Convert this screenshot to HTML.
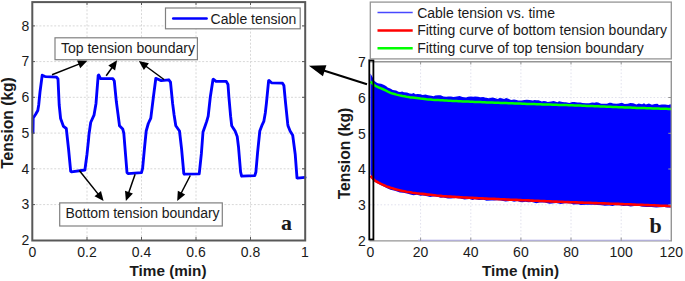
<!DOCTYPE html>
<html><head><meta charset="utf-8"><style>
html,body{margin:0;padding:0;background:#fff;width:685px;height:281px;overflow:hidden}
text{font-family:"Liberation Sans",sans-serif;fill:#1a1a1a}
</style></head><body><svg width="685" height="281" viewBox="0 0 685 281" style="display:block;font-family:'Liberation Sans',sans-serif;fill:#1a1a1a"><line x1="87.0" y1="2" x2="87.0" y2="240" stroke="#d8d8d8" stroke-width="1" stroke-dasharray="2,1.7"/><line x1="141.5" y1="2" x2="141.5" y2="240" stroke="#d8d8d8" stroke-width="1" stroke-dasharray="2,1.7"/><line x1="196.0" y1="2" x2="196.0" y2="240" stroke="#d8d8d8" stroke-width="1" stroke-dasharray="2,1.7"/><line x1="250.5" y1="2" x2="250.5" y2="240" stroke="#d8d8d8" stroke-width="1" stroke-dasharray="2,1.7"/><line x1="32" y1="204.6" x2="305" y2="204.6" stroke="#d8d8d8" stroke-width="1" stroke-dasharray="2,1.7"/><line x1="32" y1="168.8" x2="305" y2="168.8" stroke="#d8d8d8" stroke-width="1" stroke-dasharray="2,1.7"/><line x1="32" y1="133.1" x2="305" y2="133.1" stroke="#d8d8d8" stroke-width="1" stroke-dasharray="2,1.7"/><line x1="32" y1="97.3" x2="305" y2="97.3" stroke="#d8d8d8" stroke-width="1" stroke-dasharray="2,1.7"/><line x1="32" y1="61.6" x2="305" y2="61.6" stroke="#d8d8d8" stroke-width="1" stroke-dasharray="2,1.7"/><line x1="32" y1="25.9" x2="305" y2="25.9" stroke="#d8d8d8" stroke-width="1" stroke-dasharray="2,1.7"/><polyline points="33.0,132.5 33.2,118.0 35.5,114.5 37.8,110.5 38.7,105.0 40.0,92.0 42.2,75.2 44.5,76.3 46.0,76.6 56.5,77.2 58.0,79.0 59.2,105.0 60.6,118.5 63.5,126.4 66.3,128.5 68.1,145.0 68.5,148.5 70.7,171.3 71.5,171.8 84.9,170.0 87.0,154.2 88.5,140.0 89.0,134.2 90.7,122.5 94.0,115.2 96.0,103.4 98.2,75.4 98.8,75.0 100.5,78.6 112.8,78.6 114.3,81.0 116.3,101.3 118.0,114.1 119.5,125.7 122.7,128.9 123.8,133.2 127.0,172.5 128.0,173.6 141.5,172.6 142.6,168.4 144.6,147.0 146.2,131.0 148.3,123.5 150.8,118.2 153.4,97.0 155.8,78.5 156.3,78.5 161.2,80.6 168.8,79.8 170.5,82.1 172.6,103.4 174.1,115.0 175.8,125.7 179.5,131.0 181.6,149.2 183.8,173.5 184.3,174.2 199.2,173.8 199.6,170.5 201.4,153.4 203.0,132.0 205.2,125.7 206.7,121.4 208.2,116.2 210.3,97.0 213.0,79.5 213.5,79.2 216.0,81.4 226.3,81.4 228.0,84.5 228.9,97.0 230.6,116.2 231.7,125.7 235.1,131.0 237.2,136.4 238.5,147.0 240.6,172.0 241.6,176.2 254.8,175.7 255.9,172.0 257.6,152.4 259.8,131.0 261.8,125.7 263.8,121.4 265.3,113.0 266.4,103.4 268.6,80.8 269.1,80.5 271.5,82.8 282.5,83.2 283.9,85.5 285.6,103.4 287.7,123.7 288.0,125.7 290.1,131.0 292.7,135.3 295.2,154.2 297.0,177.8 297.5,178.1 305.0,177.4" fill="none" stroke="#0000ff" stroke-width="2.85" stroke-linejoin="round" stroke-linecap="round"/><rect x="32.3" y="2.1" width="272.9" height="238.4" fill="none" stroke="#585858" stroke-width="2"/><line x1="87.0" y1="240" x2="87.0" y2="237" stroke="#585858" stroke-width="1"/><line x1="87.0" y1="2" x2="87.0" y2="5" stroke="#585858" stroke-width="1"/><line x1="141.5" y1="240" x2="141.5" y2="237" stroke="#585858" stroke-width="1"/><line x1="141.5" y1="2" x2="141.5" y2="5" stroke="#585858" stroke-width="1"/><line x1="196.0" y1="240" x2="196.0" y2="237" stroke="#585858" stroke-width="1"/><line x1="196.0" y1="2" x2="196.0" y2="5" stroke="#585858" stroke-width="1"/><line x1="250.5" y1="240" x2="250.5" y2="237" stroke="#585858" stroke-width="1"/><line x1="250.5" y1="2" x2="250.5" y2="5" stroke="#585858" stroke-width="1"/><line x1="32" y1="204.6" x2="35" y2="204.6" stroke="#585858" stroke-width="1"/><line x1="302" y1="204.6" x2="305" y2="204.6" stroke="#585858" stroke-width="1"/><line x1="32" y1="168.8" x2="35" y2="168.8" stroke="#585858" stroke-width="1"/><line x1="302" y1="168.8" x2="305" y2="168.8" stroke="#585858" stroke-width="1"/><line x1="32" y1="133.1" x2="35" y2="133.1" stroke="#585858" stroke-width="1"/><line x1="302" y1="133.1" x2="305" y2="133.1" stroke="#585858" stroke-width="1"/><line x1="32" y1="97.3" x2="35" y2="97.3" stroke="#585858" stroke-width="1"/><line x1="302" y1="97.3" x2="305" y2="97.3" stroke="#585858" stroke-width="1"/><line x1="32" y1="61.6" x2="35" y2="61.6" stroke="#585858" stroke-width="1"/><line x1="302" y1="61.6" x2="305" y2="61.6" stroke="#585858" stroke-width="1"/><line x1="32" y1="25.9" x2="35" y2="25.9" stroke="#585858" stroke-width="1"/><line x1="302" y1="25.9" x2="305" y2="25.9" stroke="#585858" stroke-width="1"/><text x="29.2" y="245.1" text-anchor="end" font-size="14">2</text><text x="29.2" y="209.4" text-anchor="end" font-size="14">3</text><text x="29.2" y="173.6" text-anchor="end" font-size="14">4</text><text x="29.2" y="137.9" text-anchor="end" font-size="14">5</text><text x="29.2" y="102.1" text-anchor="end" font-size="14">6</text><text x="29.2" y="66.4" text-anchor="end" font-size="14">7</text><text x="29.2" y="30.7" text-anchor="end" font-size="14">8</text><text x="32.5" y="257.2" text-anchor="middle" font-size="14">0</text><text x="87.0" y="257.2" text-anchor="middle" font-size="14">0.2</text><text x="141.5" y="257.2" text-anchor="middle" font-size="14">0.4</text><text x="196.0" y="257.2" text-anchor="middle" font-size="14">0.6</text><text x="250.5" y="257.2" text-anchor="middle" font-size="14">0.8</text><text x="305.0" y="257.2" text-anchor="middle" font-size="14">1</text><text x="168" y="276.3" text-anchor="middle" font-size="15.3" font-weight="bold">Time (min)</text><text transform="translate(13.2,123) rotate(-90)" text-anchor="middle" font-size="15.6" font-weight="bold">Tension (kg)</text><rect x="165.5" y="8" width="134.7" height="20.8" fill="#fff" stroke="#808080" stroke-width="1.2"/><line x1="173.2" y1="18.4" x2="206.6" y2="18.4" stroke="#0000ff" stroke-width="2.5" stroke-linecap="round"/><text x="210.6" y="23.6" font-size="14">Cable tension</text><rect x="55" y="37.8" width="142.4" height="21.9" fill="#fff" stroke="#808080" stroke-width="1.2"/><text x="61" y="52.7" font-size="14">Top tension boundary</text><rect x="59.7" y="202.9" width="162.6" height="23.1" fill="#fff" stroke="#808080" stroke-width="1.2"/><text x="65.6" y="218.1" font-size="14" textLength="154" lengthAdjust="spacing">Bottom tension boundary</text><line x1="52.0" y1="74.8" x2="79.6" y2="63.9" stroke="#000" stroke-width="1.5"/><polygon points="87.4,60.8 80.2,68.2 77.1,60.4" fill="#000"/><line x1="106.2" y1="75.8" x2="112.3" y2="67.2" stroke="#000" stroke-width="1.5"/><polygon points="117.1,60.3 115.1,70.4 108.3,65.6" fill="#000"/><line x1="164.0" y1="79.5" x2="145.6" y2="66.0" stroke="#000" stroke-width="1.5"/><polygon points="138.8,61.0 148.9,63.2 143.9,69.9" fill="#000"/><line x1="79.3" y1="170.5" x2="98.4" y2="194.4" stroke="#000" stroke-width="1.5"/><polygon points="103.6,201.0 94.5,196.3 101.0,191.0" fill="#000"/><line x1="135.1" y1="174.2" x2="128.6" y2="193.1" stroke="#000" stroke-width="1.5"/><polygon points="125.9,201.0 125.0,190.7 132.9,193.5" fill="#000"/><line x1="190.3" y1="175.5" x2="181.0" y2="193.5" stroke="#000" stroke-width="1.5"/><polygon points="177.2,201.0 177.8,190.7 185.2,194.6" fill="#000"/><text x="281" y="230.2" font-size="22" font-weight="bold" style="font-family:'Liberation Serif',serif">a</text><line x1="420.6" y1="62" x2="420.6" y2="240" stroke="#e2e2ee" stroke-width="1" stroke-dasharray="1.6,1.9"/><line x1="470.8" y1="62" x2="470.8" y2="240" stroke="#e2e2ee" stroke-width="1" stroke-dasharray="1.6,1.9"/><line x1="520.9" y1="62" x2="520.9" y2="240" stroke="#e2e2ee" stroke-width="1" stroke-dasharray="1.6,1.9"/><line x1="571.0" y1="62" x2="571.0" y2="240" stroke="#e2e2ee" stroke-width="1" stroke-dasharray="1.6,1.9"/><line x1="621.2" y1="62" x2="621.2" y2="240" stroke="#e2e2ee" stroke-width="1" stroke-dasharray="1.6,1.9"/><line x1="370" y1="204.8" x2="671" y2="204.8" stroke="#e2e2ee" stroke-width="1" stroke-dasharray="1.6,1.9"/><line x1="370" y1="169.0" x2="671" y2="169.0" stroke="#e2e2ee" stroke-width="1" stroke-dasharray="1.6,1.9"/><line x1="370" y1="133.3" x2="671" y2="133.3" stroke="#e2e2ee" stroke-width="1" stroke-dasharray="1.6,1.9"/><line x1="370" y1="97.5" x2="671" y2="97.5" stroke="#e2e2ee" stroke-width="1" stroke-dasharray="1.6,1.9"/><polygon points="370.5,73.4 372.6,77.3 374.4,80.9 377.3,82.9 378.9,83.5 381.1,83.8 383.6,84.8 386.0,86.0 387.7,87.6 390.8,88.8 392.8,90.0 396.2,90.6 398.5,91.7 400.1,91.9 402.2,91.5 403.9,92.2 407.0,92.6 409.7,93.6 411.9,93.7 413.6,93.1 415.5,94.2 417.8,93.9 420.5,94.3 422.6,95.1 425.5,94.5 428.1,95.2 431.4,95.8 433.5,96.3 435.2,95.5 438.2,95.3 440.7,95.2 443.5,96.5 446.2,96.8 448.3,96.6 451.0,96.6 453.4,97.1 456.8,96.6 459.6,96.1 462.5,97.0 466.0,97.4 468.1,96.8 470.9,96.4 473.3,96.7 475.1,96.6 478.1,96.8 480.1,97.2 483.3,96.9 485.7,97.7 489.0,98.2 492.2,97.6 494.6,97.9 497.8,99.0 499.6,97.9 501.6,98.2 504.1,98.9 506.1,98.1 508.4,98.8 511.1,99.9 514.0,99.5 516.7,99.9 518.3,100.4 521.4,100.6 524.5,100.1 526.8,99.8 529.5,100.0 531.2,100.3 533.0,100.5 534.6,100.1 536.4,100.3 538.6,100.3 541.9,101.4 543.7,100.9 545.9,101.2 547.6,102.0 551.1,101.5 553.6,101.1 555.3,101.5 557.3,102.3 559.1,101.2 562.5,102.1 564.3,102.2 565.9,102.2 569.3,102.9 572.2,102.0 574.4,102.0 577.5,102.6 580.5,102.4 582.5,103.1 586.0,103.3 589.1,103.3 592.1,102.5 594.6,102.7 596.1,102.2 598.2,102.6 601.1,103.7 603.5,103.7 607.0,103.8 609.2,102.7 611.1,102.7 613.1,103.4 616.4,103.8 618.8,103.5 621.9,102.7 624.7,104.0 627.8,103.8 630.3,103.0 633.3,103.3 636.4,104.4 638.7,103.6 642.1,104.2 644.0,103.3 645.8,104.5 648.9,103.5 652.0,104.8 654.8,104.0 657.4,103.7 659.0,105.0 661.8,104.4 665.1,104.4 668.4,105.1 670.3,104.3 671.3,104.8 671.3,207.5 667.5,207.4 664.3,207.1 659.6,207.2 656.2,207.4 651.5,207.0 646.7,206.9 643.1,206.8 641.1,206.6 638.5,205.8 634.1,205.9 630.7,206.5 627.0,205.8 623.5,206.0 619.1,205.2 615.4,205.3 612.6,205.9 609.1,205.5 604.8,205.8 601.5,205.3 598.0,205.0 593.9,204.8 590.3,204.7 585.5,204.8 580.8,205.0 578.0,204.3 573.2,204.6 570.8,203.5 567.5,203.3 564.8,203.2 560.7,204.0 556.1,202.9 551.9,203.5 549.5,203.7 544.6,202.5 539.7,202.6 536.3,203.3 531.8,201.9 528.5,202.3 525.4,201.7 522.5,202.3 520.4,202.0 517.1,201.1 514.1,201.8 510.6,200.8 505.6,201.6 500.7,200.5 497.9,200.3 493.6,200.4 491.2,200.5 486.5,200.8 483.7,199.7 478.9,200.1 474.8,199.3 472.6,200.0 469.4,199.0 464.6,199.5 460.2,198.4 455.6,198.1 451.0,198.4 448.0,198.4 443.2,197.6 440.8,197.7 438.1,196.9 435.6,196.5 433.0,196.6 430.1,196.9 427.2,196.2 424.7,195.7 422.6,195.4 420.6,195.8 416.9,194.7 413.5,195.2 411.2,194.7 407.9,193.7 403.4,192.7 399.9,192.4 394.9,190.7 390.4,189.8 386.5,188.0 383.5,186.2 381.1,185.2 376.9,182.9 374.1,181.3 371.6,178.3 370.5,173.8" fill="#0000ff"/><polyline points="370.5,81.5 372.5,83.5 374.5,85.3 376.5,86.5 378.5,87.3 380.5,88.2 382.5,89.0 384.5,89.9 386.5,90.9 388.5,92.0 390.5,92.9 392.5,93.5 394.5,94.0 396.5,94.6 398.5,95.1 400.5,95.6 402.5,96.0 404.5,96.3 406.5,96.7 408.5,97.0 410.5,97.4 412.5,97.6 414.5,97.8 416.5,98.0 418.5,98.2 420.5,98.5 422.5,98.7 424.5,98.9 426.5,99.2 428.5,99.4 430.5,99.6 432.5,99.8 434.5,99.9 436.5,100.0 438.5,100.1 440.5,100.2 442.5,100.3 444.5,100.5 446.5,100.6 448.5,100.7 450.5,100.8 452.5,100.9 454.5,101.0 456.5,101.1 458.5,101.2 460.5,101.3 462.5,101.4 464.5,101.5 466.5,101.5 468.5,101.6 470.5,101.7 472.5,101.8 474.5,101.9 476.5,102.0 478.5,102.0 480.5,102.1 482.5,102.2 484.5,102.3 486.5,102.4 488.5,102.4 490.5,102.5 492.5,102.6 494.5,102.7 496.5,102.7 498.5,102.8 500.5,102.9 502.5,103.0 504.5,103.0 506.5,103.1 508.5,103.2 510.5,103.3 512.5,103.3 514.5,103.4 516.5,103.5 518.5,103.6 520.5,103.6 522.5,103.7 524.5,103.8 526.5,103.9 528.5,103.9 530.5,104.0 532.5,104.1 534.5,104.1 536.5,104.2 538.5,104.3 540.5,104.3 542.5,104.4 544.5,104.4 546.5,104.5 548.5,104.6 550.5,104.6 552.5,104.7 554.5,104.7 556.5,104.8 558.5,104.9 560.5,104.9 562.5,105.0 564.5,105.0 566.5,105.1 568.5,105.2 570.5,105.2 572.5,105.3 574.5,105.4 576.5,105.5 578.5,105.5 580.5,105.6 582.5,105.7 584.5,105.8 586.5,105.9 588.5,105.9 590.5,106.0 592.5,106.1 594.5,106.2 596.5,106.3 598.5,106.3 600.5,106.4 602.5,106.5 604.5,106.6 606.5,106.7 608.5,106.8 610.5,106.8 612.5,106.9 614.5,107.0 616.5,107.1 618.5,107.2 620.5,107.2 622.5,107.3 624.5,107.4 626.5,107.5 628.5,107.6 630.5,107.6 632.5,107.7 634.5,107.8 636.5,107.9 638.5,107.9 640.5,108.0 642.5,108.0 644.5,108.1 646.5,108.2 648.5,108.2 650.5,108.3 652.5,108.4 654.5,108.5 656.5,108.5 658.5,108.6 660.5,108.7 662.5,108.7 664.5,108.8 666.5,108.8 668.5,108.9 670.5,109.0 671.3,109.0" fill="none" stroke="#00ff00" stroke-width="2.5"/><polyline points="370.5,175.8 372.5,178.2 374.5,180.3 376.5,181.5 378.5,182.6 380.5,183.7 382.5,184.6 384.5,185.5 386.5,186.4 388.5,187.0 390.5,187.7 392.5,188.3 394.5,188.9 396.5,189.6 398.5,190.1 400.5,190.5 402.5,190.9 404.5,191.3 406.5,191.7 408.5,192.0 410.5,192.3 412.5,192.7 414.5,193.0 416.5,193.3 418.5,193.5 420.5,193.7 422.5,193.9 424.5,194.1 426.5,194.4 428.5,194.6 430.5,194.8 432.5,195.0 434.5,195.2 436.5,195.5 438.5,195.7 440.5,195.9 442.5,196.1 444.5,196.2 446.5,196.4 448.5,196.5 450.5,196.6 452.5,196.8 454.5,196.9 456.5,197.0 458.5,197.1 460.5,197.2 462.5,197.4 464.5,197.5 466.5,197.6 468.5,197.7 470.5,197.8 472.5,197.9 474.5,198.0 476.5,198.1 478.5,198.2 480.5,198.3 482.5,198.4 484.5,198.5 486.5,198.6 488.5,198.7 490.5,198.8 492.5,198.8 494.5,198.9 496.5,199.0 498.5,199.1 500.5,199.2 502.5,199.3 504.5,199.4 506.5,199.5 508.5,199.6 510.5,199.7 512.5,199.7 514.5,199.8 516.5,199.9 518.5,200.0 520.5,200.1 522.5,200.2 524.5,200.3 526.5,200.3 528.5,200.4 530.5,200.5 532.5,200.6 534.5,200.7 536.5,200.8 538.5,200.9 540.5,201.0 542.5,201.0 544.5,201.1 546.5,201.2 548.5,201.3 550.5,201.4 552.5,201.5 554.5,201.6 556.5,201.6 558.5,201.7 560.5,201.8 562.5,201.9 564.5,202.0 566.5,202.0 568.5,202.1 570.5,202.2 572.5,202.3 574.5,202.3 576.5,202.4 578.5,202.5 580.5,202.6 582.5,202.6 584.5,202.7 586.5,202.8 588.5,202.8 590.5,202.9 592.5,203.0 594.5,203.1 596.5,203.1 598.5,203.2 600.5,203.3 602.5,203.4 604.5,203.4 606.5,203.5 608.5,203.6 610.5,203.7 612.5,203.7 614.5,203.8 616.5,203.9 618.5,203.9 620.5,204.0 622.5,204.1 624.5,204.2 626.5,204.3 628.5,204.3 630.5,204.4 632.5,204.5 634.5,204.6 636.5,204.7 638.5,204.7 640.5,204.8 642.5,204.9 644.5,205.0 646.5,205.1 648.5,205.1 650.5,205.2 652.5,205.3 654.5,205.4 656.5,205.5 658.5,205.6 660.5,205.7 662.5,205.7 664.5,205.8 666.5,205.9 668.5,206.0 670.5,206.1 671.3,206.1" fill="none" stroke="#ff0000" stroke-width="2.6"/><path d="M369.5,61.8 H671.3 V240.9 H369.5" fill="none" stroke="#959595" stroke-width="1.4"/><line x1="418" y1="240.2" x2="669" y2="240.2" stroke="#b4b0ea" stroke-width="1"/><line x1="420.6" y1="240.9" x2="420.6" y2="237.6" stroke="#959595" stroke-width="1"/><line x1="420.6" y1="61.8" x2="420.6" y2="64.5" stroke="#959595" stroke-width="1"/><line x1="470.8" y1="240.9" x2="470.8" y2="237.6" stroke="#959595" stroke-width="1"/><line x1="470.8" y1="61.8" x2="470.8" y2="64.5" stroke="#959595" stroke-width="1"/><line x1="520.9" y1="240.9" x2="520.9" y2="237.6" stroke="#959595" stroke-width="1"/><line x1="520.9" y1="61.8" x2="520.9" y2="64.5" stroke="#959595" stroke-width="1"/><line x1="571.0" y1="240.9" x2="571.0" y2="237.6" stroke="#959595" stroke-width="1"/><line x1="571.0" y1="61.8" x2="571.0" y2="64.5" stroke="#959595" stroke-width="1"/><line x1="621.2" y1="240.9" x2="621.2" y2="237.6" stroke="#959595" stroke-width="1"/><line x1="621.2" y1="61.8" x2="621.2" y2="64.5" stroke="#959595" stroke-width="1"/><line x1="668.3" y1="204.8" x2="671.3" y2="204.8" stroke="#959595" stroke-width="1"/><line x1="668.3" y1="169.0" x2="671.3" y2="169.0" stroke="#959595" stroke-width="1"/><line x1="668.3" y1="133.3" x2="671.3" y2="133.3" stroke="#959595" stroke-width="1"/><line x1="668.3" y1="97.5" x2="671.3" y2="97.5" stroke="#959595" stroke-width="1"/><rect x="369.3" y="60.3" width="4.1" height="179.2" fill="none" stroke="#000" stroke-width="1.8"/><text x="365.7" y="245.9" text-anchor="end" font-size="14">2</text><text x="365.7" y="210.2" text-anchor="end" font-size="14">3</text><text x="365.7" y="174.4" text-anchor="end" font-size="14">4</text><text x="365.7" y="138.7" text-anchor="end" font-size="14">5</text><text x="365.7" y="102.9" text-anchor="end" font-size="14">6</text><text x="365.7" y="67.2" text-anchor="end" font-size="14">7</text><text x="370.5" y="257.2" text-anchor="middle" font-size="14">0</text><text x="420.6" y="257.2" text-anchor="middle" font-size="14">20</text><text x="470.8" y="257.2" text-anchor="middle" font-size="14">40</text><text x="520.9" y="257.2" text-anchor="middle" font-size="14">60</text><text x="571.0" y="257.2" text-anchor="middle" font-size="14">80</text><text x="621.2" y="257.2" text-anchor="middle" font-size="14">100</text><text x="671.3" y="257.2" text-anchor="middle" font-size="14">120</text><text x="520.5" y="276.3" text-anchor="middle" font-size="15.3" font-weight="bold">Time (min)</text><text transform="translate(350.2,153.6) rotate(-90)" text-anchor="middle" font-size="15.6" font-weight="bold">Tension (kg)</text><text x="649.5" y="233" font-size="22" font-weight="bold" style="font-family:'Liberation Serif',serif">b</text><rect x="370.3" y="2.1" width="301" height="56.8" fill="#fff" stroke="#959595" stroke-width="1.3"/><line x1="377.5" y1="12.4" x2="412.7" y2="12.4" stroke="#4848ff" stroke-width="1.5"/><line x1="377.5" y1="30.4" x2="412.7" y2="30.4" stroke="#ff0000" stroke-width="2.5"/><line x1="377.5" y1="48.2" x2="412.7" y2="48.2" stroke="#00ff00" stroke-width="2.4"/><text x="417.2" y="17.6" font-size="14">Cable tension vs. time</text><text x="417.2" y="35.3" font-size="14">Fitting curve of bottom tension boundary</text><text x="417.2" y="53.1" font-size="14">Fitting curve of top tension boundary</text><line x1="367.0" y1="84.3" x2="323.7" y2="70.5" stroke="#000" stroke-width="2.2"/><polygon points="308.9,65.8 326.4,65.3 322.9,76.3" fill="#000"/></svg></body></html>
